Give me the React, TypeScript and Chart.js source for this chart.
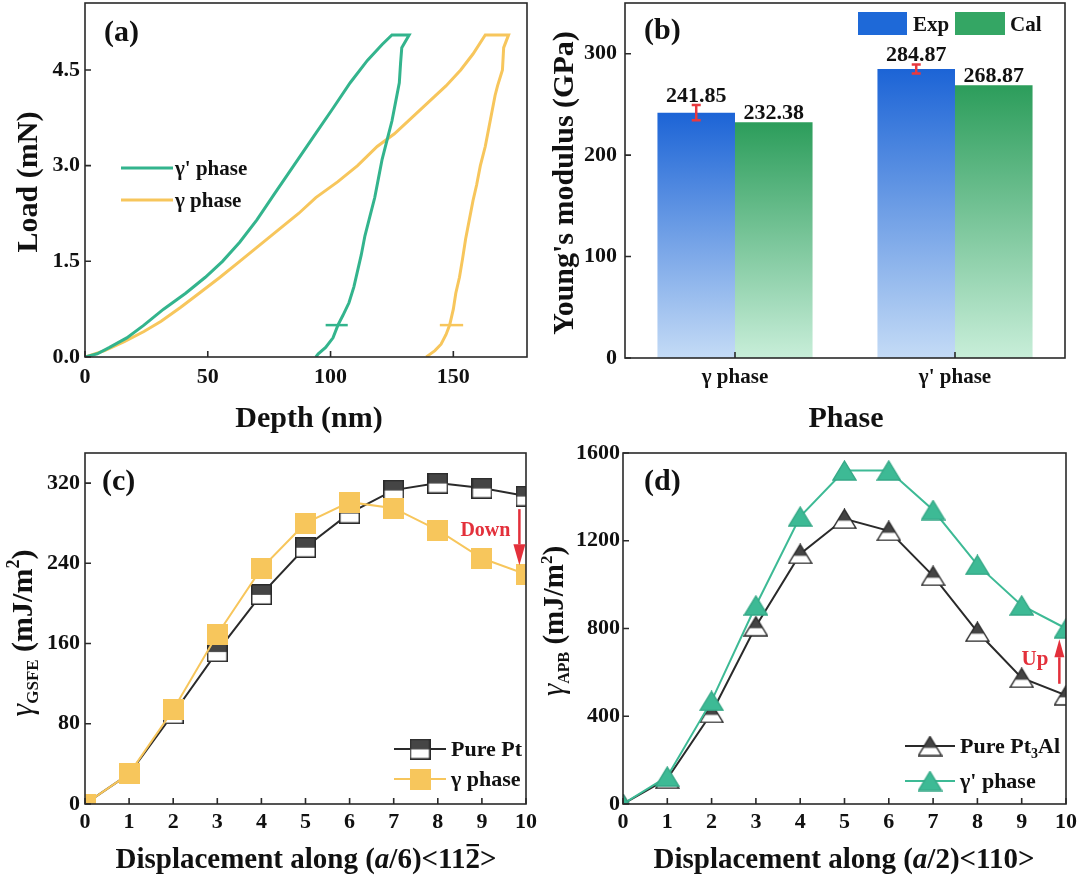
import { useEffect, useRef } from "react"
import { Chart, registerables } from "chart.js"

Chart.register(...registerables)

// (a) load-depth curves
const gpDepth = [0, 5, 10, 17, 24, 32, 41, 49, 56, 63, 70, 77, 85, 93, 101, 108, 115, 121, 125, 132, 129, 128.5, 128, 126.5, 125, 123, 121, 119.5, 118, 116, 114, 112.5, 111, 109.5, 107.5, 105, 103, 101, 98, 95, 94]
const gpLoad = [0, 0.05, 0.15, 0.3, 0.5, 0.75, 1.0, 1.25, 1.5, 1.8, 2.15, 2.55, 3.0, 3.45, 3.9, 4.3, 4.65, 4.9, 5.05, 5.05, 4.85, 4.6, 4.3, 4.0, 3.7, 3.4, 3.1, 2.8, 2.5, 2.2, 1.9, 1.6, 1.35, 1.1, 0.85, 0.65, 0.5, 0.3, 0.15, 0.05, 0]
const gDepth = [0, 8, 16, 24, 31, 39, 46.5, 55, 63, 71, 79, 87, 94, 103, 111, 119, 126, 133, 140, 147, 153, 158, 163, 172.5, 170.5, 170, 168, 167, 166, 164.5, 163, 161, 159.5, 158, 156.5, 155, 153.8, 152.5, 151, 150, 148.5, 147, 145, 142.5, 140, 139]
const gLoad = [0, 0.1, 0.24, 0.4, 0.56, 0.78, 1.0, 1.25, 1.5, 1.75, 2.0, 2.25, 2.5, 2.75, 3.0, 3.3, 3.5, 3.75, 4.0, 4.25, 4.5, 4.75, 5.05, 5.05, 4.85, 4.5, 4.25, 4.1, 3.9, 3.6, 3.3, 3.0, 2.7, 2.45, 2.15, 1.85, 1.55, 1.25, 1.0, 0.75, 0.5, 0.35, 0.2, 0.1, 0.03, 0]
const gpMarkDepth = [98, 107]
const gMarkDepth = [144.5, 154]
const markLoad = [0.5, 0.5]

// (b) Young's modulus
const phases = ["γ phase", "γ' phase"]
const expModulus = [241.85, 284.87]
const calModulus = [232.38, 268.87]
const expError = [7.5, 4.5]

// (c) GSFE
const steps = [0, 1, 2, 3, 4, 5, 6, 7, 8, 9, 10]
const gsfePurePt = [0, 30, 90, 152, 209, 256, 290, 313, 320, 315, 307]
const gsfeGamma = [0, 30, 94, 169, 235, 280, 301, 295, 273, 245, 229]

// (d) APB
const apbPurePt3Al = [0, 115, 415, 810, 1140, 1300, 1245, 1040, 785, 575, 495]
const apbGammaPrime = [0, 125, 470, 905, 1310, 1520, 1520, 1340, 1090, 905, 800]

const SERIF = '"Liberation Serif", "Times New Roman", Times, serif'
const bold = (s: number) => `bold ${s}px ${SERIF}`
const italic = (s: number) => `italic ${s}px ${SERIF}`
const bolditalic = (s: number) => `italic bold ${s}px ${SERIF}`
const tickFont = (size: number) => ({ family: SERIF, size, weight: "bold" as const })

const GREEN_A = "#33b48d"
const GOLD = "#f7c65c"
const GREEN_D = "#3dba95"
const DARK = "#2a2a2a"
const RED = "#e3303b"

type Run = { text: string; font: string; dy?: number; bar?: boolean }

function drawRuns(ctx: CanvasRenderingContext2D, runs: Run[], x: number, y: number, align = "left") {
  let w = 0
  for (const r of runs) {
    ctx.font = r.font
    w += ctx.measureText(r.text).width
  }
  let cx = align === "center" ? x - w / 2 : align === "right" ? x - w : x
  ctx.textAlign = "left"
  ctx.textBaseline = "alphabetic"
  for (const r of runs) {
    ctx.font = r.font
    const rw = ctx.measureText(r.text).width
    ctx.fillText(r.text, cx, y + (r.dy || 0))
    if (r.bar) {
      ctx.fillRect(cx + 1, y - 24, rw - 2, 2.2)
    }
    cx += rw
  }
}

function drawRotated(ctx: CanvasRenderingContext2D, runs: Run[], baseX: number, centerY: number) {
  ctx.save()
  ctx.translate(baseX, centerY)
  ctx.rotate(-Math.PI / 2)
  drawRuns(ctx, runs, 0, 0, "center")
  ctx.restore()
}

const fix = (size: number) => (s: any) => {
  if (s.isHorizontal()) s.height = size
  else s.width = size
  s.paddingLeft = 0
  s.paddingRight = 0
  s.paddingTop = 0
  s.paddingBottom = 0
}

const framePlugin = {
  id: "frame",
  afterDraw(chart: any) {
    const { ctx, chartArea: a, scales } = chart
    ctx.save()
    ctx.strokeStyle = DARK
    ctx.lineWidth = 1.6
    ctx.beginPath()
    const xs = scales.x
    xs.ticks.forEach((_: any, i: number) => {
      const p = xs.getPixelForTick(i)
      ctx.moveTo(p, a.bottom)
      ctx.lineTo(p, a.bottom - 6)
    })
    const ys = scales.y
    ys.ticks.forEach((_: any, i: number) => {
      const p = ys.getPixelForTick(i)
      ctx.moveTo(a.left, p)
      ctx.lineTo(a.left + 6, p)
    })
    ctx.stroke()
    ctx.strokeRect(a.left, a.top, a.right - a.left, a.bottom - a.top)
    ctx.restore()
  },
}

function squareMarker(size: number, fill: string, stroke: string, bottomFill?: string) {
  const cv = document.createElement("canvas")
  cv.width = size
  cv.height = size
  const g = cv.getContext("2d")!
  g.fillStyle = fill
  g.fillRect(0, 0, size, size)
  if (bottomFill) {
    g.fillStyle = bottomFill
    g.fillRect(0, size * 0.52, size, size)
    g.strokeStyle = stroke
    g.lineWidth = 1.5
    g.strokeRect(0.75, 0.75, size - 1.5, size - 1.5)
  }
  return cv
}

function triangleMarker(w: number, h: number, fill: string, stroke: string, bottomFill?: string) {
  const cv = document.createElement("canvas")
  cv.width = w + 2
  cv.height = h + 2
  const g = cv.getContext("2d")!
  g.beginPath()
  g.moveTo(cv.width / 2, 1)
  g.lineTo(w + 1, h + 1)
  g.lineTo(1, h + 1)
  g.closePath()
  g.save()
  g.clip()
  g.fillStyle = fill
  g.fillRect(0, 0, cv.width, cv.height)
  if (bottomFill) {
    g.fillStyle = bottomFill
    g.fillRect(0, 1 + h * 0.6, cv.width, cv.height)
  }
  g.restore()
  g.strokeStyle = stroke
  g.lineWidth = 1.4
  g.stroke()
  return cv
}

function arrow(ctx: CanvasRenderingContext2D, x: number, tail: number, tip: number, headW: number, headL: number) {
  const dir = Math.sign(tip - tail)
  ctx.strokeStyle = RED
  ctx.fillStyle = RED
  ctx.lineWidth = 2.5
  ctx.beginPath()
  ctx.moveTo(x, tail)
  ctx.lineTo(x, tip - dir * headL)
  ctx.stroke()
  ctx.beginPath()
  ctx.moveTo(x, tip)
  ctx.lineTo(x - headW / 2, tip - dir * headL)
  ctx.lineTo(x + headW / 2, tip - dir * headL)
  ctx.closePath()
  ctx.fill()
}

function barGradient(c: any, top: string, bottom: string) {
  const chart = c.chart
  const y = chart.scales && chart.scales.y
  if (!chart.chartArea || !y || c.type !== "data") return top
  const yTop = y.getPixelForValue(c.parsed.y)
  const yBot = y.getPixelForValue(0)
  const g = chart.ctx.createLinearGradient(0, yTop, 0, yBot)
  g.addColorStop(0, top)
  g.addColorStop(1, bottom)
  return g
}

const pts = (xs: number[], ys: number[]) => xs.map((x, i) => ({ x, y: ys[i] }))

const axisBase = (fitSize: number, size: number, padding: number) => ({
  afterFit: fix(fitSize),
  grid: { display: false, drawTicks: false },
  border: { display: false },
  ticks: { font: tickFont(size), color: "#111", padding, includeBounds: false },
})

const commonOptions = (padRight: number, padTop: number) => ({
  animation: false as const,
  responsive: false,
  events: [] as any[],
  layout: { padding: { left: 0, top: padTop, right: padRight, bottom: 0 } },
  plugins: { legend: { display: false }, tooltip: { enabled: false } },
})

export default function App() {
  const aRef = useRef<HTMLCanvasElement>(null)
  const bRef = useRef<HTMLCanvasElement>(null)
  const cRef = useRef<HTMLCanvasElement>(null)
  const dRef = useRef<HTMLCanvasElement>(null)

  useEffect(() => {
    const charts: Chart[] = []
    const ptSquare = squareMarker(21, "#454545", DARK, "#ffffff")
    const goldSquare = squareMarker(21, GOLD, GOLD)
    const ptTriangle = triangleMarker(23, 19, "#444444", DARK, "#ffffff")
    const greenTriangle = triangleMarker(23, 19, GREEN_D, "#35a886")

    // (a)
    if (aRef.current) {
      charts.push(
        new Chart(aRef.current, {
          type: "scatter",
          data: {
            datasets: [
              { data: pts(gpDepth, gpLoad), showLine: true, borderColor: GREEN_A, borderWidth: 3, pointRadius: 0 },
              { data: pts(gpMarkDepth, markLoad), showLine: true, borderColor: GREEN_A, borderWidth: 2.5, pointRadius: 0 },
              { data: pts(gDepth, gLoad), showLine: true, borderColor: GOLD, borderWidth: 3, pointRadius: 0 },
              { data: pts(gMarkDepth, markLoad), showLine: true, borderColor: GOLD, borderWidth: 2.5, pointRadius: 0 },
            ],
          },
          options: {
            ...commonOptions(13, 3),
            scales: {
              x: { type: "linear", min: 0, max: 180, ...axisBase(84, 22, 7), ticks: { ...axisBase(84, 22, 7).ticks, stepSize: 50 } },
              y: {
                type: "linear",
                min: 0,
                max: 5.55,
                ...axisBase(85, 22, 5),
                ticks: { ...axisBase(85, 22, 5).ticks, stepSize: 1.5, callback: (v: any) => Number(v).toFixed(1) },
              },
            },
          } as any,
          plugins: [
            framePlugin,
            {
              id: "decorA",
              afterDraw(chart: any) {
                const ctx = chart.ctx as CanvasRenderingContext2D
                ctx.save()
                ctx.fillStyle = "#111"
                drawRuns(ctx, [{ text: "(a)", font: bold(30) }], 104, 41)
                drawRuns(ctx, [{ text: "Depth (nm)", font: bold(30) }], 309, 427, "center")
                drawRotated(ctx, [{ text: "Load (mN)", font: bold(30) }], 37, 182)
                ctx.lineWidth = 3
                ctx.strokeStyle = GREEN_A
                ctx.beginPath()
                ctx.moveTo(121, 168)
                ctx.lineTo(173, 168)
                ctx.stroke()
                ctx.strokeStyle = GOLD
                ctx.beginPath()
                ctx.moveTo(121, 200)
                ctx.lineTo(173, 200)
                ctx.stroke()
                drawRuns(ctx, [{ text: "γ' phase", font: bold(21) }], 175, 175)
                drawRuns(ctx, [{ text: "γ phase", font: bold(21) }], 175, 207)
                ctx.restore()
              },
            },
          ],
        })
      )
    }

    // (b)
    if (bRef.current) {
      charts.push(
        new Chart(bRef.current, {
          type: "bar",
          data: {
            labels: phases,
            datasets: [
              {
                label: "Exp",
                data: expModulus,
                backgroundColor: (c: any) => barGradient(c, "#1c64d6", "#c4dbf6"),
                borderWidth: 0,
                categoryPercentage: 0.705,
                barPercentage: 1,
              },
              {
                label: "Cal",
                data: calModulus,
                backgroundColor: (c: any) => barGradient(c, "#2c9d5b", "#c8eed9"),
                borderWidth: 0,
                categoryPercentage: 0.705,
                barPercentage: 1,
              },
            ],
          },
          options: {
            ...commonOptions(15, 3),
            scales: {
              x: { ...axisBase(83, 21, 7) },
              y: { min: 0, max: 350, ...axisBase(85, 22, 8), ticks: { ...axisBase(85, 22, 8).ticks, stepSize: 100 } },
            },
          } as any,
          plugins: [
            framePlugin,
            {
              id: "decorB",
              afterDraw(chart: any) {
                const ctx = chart.ctx as CanvasRenderingContext2D
                const y = chart.scales.y
                const expMeta = chart.getDatasetMeta(0)
                const calMeta = chart.getDatasetMeta(1)
                ctx.save()
                // error bars
                ctx.strokeStyle = "#e8393f"
                ctx.lineWidth = 2.5
                expMeta.data.forEach((el: any, i: number) => {
                  const t = y.getPixelForValue(expModulus[i] + expError[i])
                  const b = y.getPixelForValue(expModulus[i] - expError[i])
                  ctx.beginPath()
                  ctx.moveTo(el.x, t)
                  ctx.lineTo(el.x, b)
                  ctx.moveTo(el.x - 4.5, t)
                  ctx.lineTo(el.x + 4.5, t)
                  ctx.moveTo(el.x - 4.5, b)
                  ctx.lineTo(el.x + 4.5, b)
                  ctx.stroke()
                })
                ctx.fillStyle = "#111"
                expMeta.data.forEach((el: any, i: number) => {
                  const t = y.getPixelForValue(expModulus[i] + expError[i])
                  drawRuns(ctx, [{ text: expModulus[i].toFixed(2), font: bold(22) }], el.x, t - 3, "center")
                })
                calMeta.data.forEach((el: any, i: number) => {
                  drawRuns(ctx, [{ text: calModulus[i].toFixed(2), font: bold(22) }], el.x, el.y - 3, "center")
                })
                drawRuns(ctx, [{ text: "(b)", font: bold(30) }], 104, 39)
                drawRuns(ctx, [{ text: "Phase", font: bold(30) }], 306, 427, "center")
                drawRotated(ctx, [{ text: "Young's modulus (GPa)", font: bold(30) }], 33, 183)
                // legend
                ctx.fillStyle = "#1e69d8"
                ctx.fillRect(318, 12, 49, 23)
                ctx.fillStyle = "#34a664"
                ctx.fillRect(415, 12, 50, 23)
                ctx.fillStyle = "#111"
                drawRuns(ctx, [{ text: "Exp", font: bold(21) }], 373, 31)
                drawRuns(ctx, [{ text: "Cal", font: bold(21) }], 470, 31)
                ctx.restore()
              },
            },
          ],
        })
      )
    }

    // (c)
    if (cRef.current) {
      charts.push(
        new Chart(cRef.current, {
          type: "scatter",
          data: {
            datasets: [
              { data: pts(steps, gsfeGamma), showLine: true, borderColor: GOLD, borderWidth: 2, pointStyle: goldSquare as any, pointRadius: 10, clip: 0 },
              { data: pts(steps, gsfePurePt), showLine: true, borderColor: DARK, borderWidth: 2, pointStyle: ptSquare as any, pointRadius: 10, clip: 0 },
            ],
          },
          options: {
            ...commonOptions(14, 8),
            scales: {
              x: { type: "linear", min: 0, max: 10, ...axisBase(78, 22, 5), ticks: { ...axisBase(78, 22, 5).ticks, stepSize: 1 } },
              y: { min: 0, max: 350, ...axisBase(85, 22, 5), ticks: { ...axisBase(85, 22, 5).ticks, stepSize: 80 } },
            },
          } as any,
          plugins: [
            framePlugin,
            {
              id: "decorC",
              afterDraw(chart: any) {
                const ctx = chart.ctx as CanvasRenderingContext2D
                const xs = chart.scales.x
                const ys = chart.scales.y
                ctx.save()
                ctx.fillStyle = "#111"
                drawRuns(ctx, [{ text: "(c)", font: bold(30) }], 102, 49)
                drawRuns(
                  ctx,
                  [
                    { text: "Displacement along (", font: bold(29) },
                    { text: "a", font: bolditalic(29) },
                    { text: "/6)<11", font: bold(29) },
                    { text: "2", font: bold(29), bar: true },
                    { text: ">", font: bold(29) },
                  ],
                  306,
                  427,
                  "center"
                )
                drawRotated(
                  ctx,
                  [
                    { text: "γ", font: italic(32) },
                    { text: "GSFE", font: bold(17), dy: 6 },
                    { text: " (mJ/m", font: bold(30) },
                    { text: "2", font: bold(18), dy: -13 },
                    { text: ")", font: bold(30) },
                  ],
                  32,
                  192
                )
                // legend
                ctx.lineWidth = 2
                ctx.strokeStyle = DARK
                ctx.beginPath()
                ctx.moveTo(394, 308)
                ctx.lineTo(446, 308)
                ctx.stroke()
                ctx.drawImage(ptSquare, 420 - 10.5, 308 - 10.5)
                ctx.strokeStyle = GOLD
                ctx.beginPath()
                ctx.moveTo(394, 338)
                ctx.lineTo(446, 338)
                ctx.stroke()
                ctx.drawImage(goldSquare, 420 - 10.5, 338 - 10.5)
                drawRuns(ctx, [{ text: "Pure Pt", font: bold(22) }], 451, 315)
                drawRuns(ctx, [{ text: "γ phase", font: bold(22) }], 451, 345)
                // annotation
                const ax = xs.getPixelForValue(9.85)
                arrow(ctx, ax, ys.getPixelForValue(294), ys.getPixelForValue(238), 12, 21)
                ctx.fillStyle = RED
                drawRuns(ctx, [{ text: "Down", font: bold(20) }], ax - 9, ys.getPixelForValue(267), "right")
                ctx.restore()
              },
            },
          ],
        })
      )
    }

    // (d)
    if (dRef.current) {
      charts.push(
        new Chart(dRef.current, {
          type: "scatter",
          data: {
            datasets: [
              { data: pts(steps, apbGammaPrime), showLine: true, borderColor: GREEN_D, borderWidth: 2, pointStyle: greenTriangle as any, pointRadius: 10, clip: 0 },
              { data: pts(steps, apbPurePt3Al), showLine: true, borderColor: DARK, borderWidth: 2, pointStyle: ptTriangle as any, pointRadius: 10, clip: 0 },
            ],
          },
          options: {
            ...commonOptions(14, 8),
            scales: {
              x: { type: "linear", min: 0, max: 10, ...axisBase(78, 22, 5), ticks: { ...axisBase(78, 22, 5).ticks, stepSize: 1 } },
              y: {
                min: 0,
                max: 1600,
                ...axisBase(83, 22, 3),
                ticks: { ...axisBase(83, 22, 3).ticks, stepSize: 400, callback: (v: any) => String(v) },
              },
            },
          } as any,
          plugins: [
            framePlugin,
            {
              id: "decorD",
              afterDraw(chart: any) {
                const ctx = chart.ctx as CanvasRenderingContext2D
                const xs = chart.scales.x
                const ys = chart.scales.y
                ctx.save()
                ctx.fillStyle = "#111"
                drawRuns(ctx, [{ text: "(d)", font: bold(30) }], 104, 49)
                drawRuns(
                  ctx,
                  [
                    { text: "Displacement along (", font: bold(29) },
                    { text: "a", font: bolditalic(29) },
                    { text: "/2)<110>", font: bold(29) },
                  ],
                  304,
                  427,
                  "center"
                )
                drawRotated(
                  ctx,
                  [
                    { text: "γ", font: italic(31) },
                    { text: "APB", font: bold(16), dy: 6 },
                    { text: " (mJ/m", font: bold(29) },
                    { text: "2", font: bold(17), dy: -11 },
                    { text: ")", font: bold(29) },
                  ],
                  23,
                  180
                )
                // legend
                ctx.lineWidth = 2
                ctx.strokeStyle = DARK
                ctx.beginPath()
                ctx.moveTo(365, 305)
                ctx.lineTo(415, 305)
                ctx.stroke()
                ctx.drawImage(ptTriangle, 390 - ptTriangle.width / 2, 305 - ptTriangle.height / 2)
                ctx.strokeStyle = GREEN_D
                ctx.beginPath()
                ctx.moveTo(365, 340)
                ctx.lineTo(415, 340)
                ctx.stroke()
                ctx.drawImage(greenTriangle, 390 - greenTriangle.width / 2, 340 - greenTriangle.height / 2)
                drawRuns(
                  ctx,
                  [
                    { text: "Pure Pt", font: bold(22) },
                    { text: "3", font: bold(14), dy: 5 },
                    { text: "Al", font: bold(22) },
                  ],
                  420,
                  312
                )
                drawRuns(ctx, [{ text: "γ' phase", font: bold(22) }], 420, 347)
                // annotation
                const ax = xs.getPixelForValue(9.85)
                arrow(ctx, ax, ys.getPixelForValue(548), ys.getPixelForValue(751), 10, 18)
                ctx.fillStyle = RED
                drawRuns(ctx, [{ text: "Up", font: bold(21) }], ax - 11, ys.getPixelForValue(632), "right")
                ctx.restore()
              },
            },
          ],
        })
      )
    }

    return () => charts.forEach((c) => c.destroy())
  }, [])

  const pos = (left: number, top: number) => ({ position: "absolute" as const, left, top, width: 540, height: 441 })

  return (
    <div style={{ position: "absolute", left: 0, top: 0, width: 1080, height: 882, background: "#fff", overflow: "hidden" }}>
      <canvas ref={aRef} width={540} height={441} style={pos(0, 0)} />
      <canvas ref={bRef} width={540} height={441} style={pos(540, 0)} />
      <canvas ref={cRef} width={540} height={441} style={pos(0, 441)} />
      <canvas ref={dRef} width={540} height={441} style={pos(540, 441)} />
    </div>
  )
}
